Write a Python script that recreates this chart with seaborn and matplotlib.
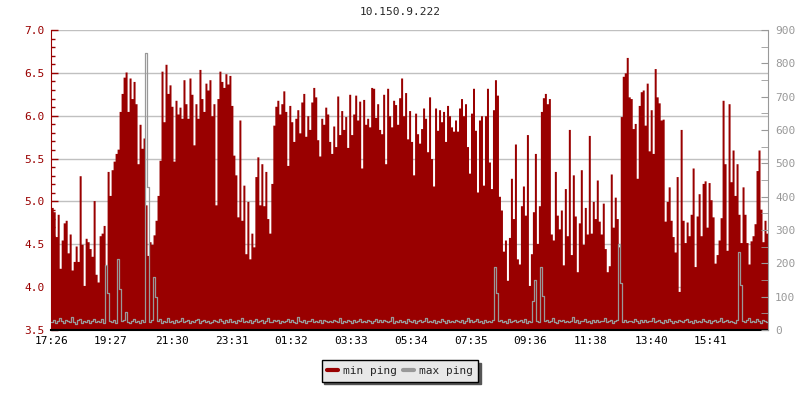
import numpy as np
import matplotlib
matplotlib.use("Agg")
import matplotlib.pyplot as plt
from matplotlib.lines import Line2D
import seaborn as sns

host = "10.150.9.222"
tick_labels = ["17:26", "19:27", "21:30", "23:31", "01:32", "03:33",
               "05:34", "07:35", "09:36", "11:38", "13:40", "15:41"]
tick_minutes = [0, 121, 244, 365, 486, 607, 728, 849, 970, 1092, 1214, 1335]
step_minutes = 4.04

# min ping (left axis), one value per sample
min_ping = [
    4.93, 4.88, 4.59, 4.85, 4.22, 4.55, 4.75, 4.78, 4.40, 4.62,
    4.20, 4.30, 4.48, 4.30, 5.30, 4.50, 4.02, 4.57, 4.53, 4.45,
    4.36, 5.01, 4.15, 4.06, 4.60, 4.63, 4.72, 4.26, 5.35, 5.07,
    5.37, 5.47, 5.56, 5.61, 6.05, 6.26, 6.45, 6.51, 6.05, 6.44,
    6.20, 6.40, 6.14, 5.44, 5.90, 5.62, 5.74, 4.96, 4.37, 4.53,
    4.50, 4.61, 4.78, 5.07, 5.48, 6.52, 5.93, 6.60, 6.26, 6.36,
    6.11, 5.47, 6.18, 6.02, 6.10, 5.97, 6.42, 6.14, 5.97, 6.44,
    6.25, 5.66, 6.14, 5.97, 6.54, 6.20, 6.05, 6.38, 6.30, 6.42,
    6.00, 6.14, 4.96, 6.20, 6.52, 6.40, 6.33, 6.49, 6.37, 6.47, 6.12,
    5.54, 5.31, 4.82, 5.95, 4.78, 5.19, 4.39, 5.00, 4.33, 4.63,
    4.47, 5.29, 5.52, 4.96, 5.44, 4.95, 5.35, 4.80, 4.63,
    5.21, 5.89, 6.11, 6.18, 6.02, 6.14, 6.29, 6.05, 5.42, 6.12,
    5.93, 5.70, 5.97, 6.07, 5.80, 6.16, 6.26, 5.76, 6.00, 5.84,
    6.16, 6.33, 6.22, 5.72, 5.53, 5.97, 5.90, 6.10, 6.02, 5.70,
    5.56, 5.88, 5.64, 6.23, 5.78, 6.06, 5.84, 5.99, 5.63, 6.25,
    5.78, 6.02, 6.24, 5.95, 6.17, 5.39, 6.19, 5.90, 5.97, 5.87,
    6.33, 6.32, 5.98, 6.14, 5.84, 5.79, 6.25, 5.44, 6.32, 6.00,
    5.87, 6.18, 6.13, 5.90, 6.21, 6.44, 6.00, 6.27, 5.73, 6.06,
    5.70, 5.31, 6.03, 5.79, 5.68, 5.85, 6.09, 5.97, 5.58, 6.22,
    5.50, 5.18, 6.09, 5.83, 6.07, 5.93, 6.05, 5.70, 6.12, 6.00,
    5.87, 5.82, 5.95, 5.82, 6.09, 6.20, 6.00, 6.14, 5.64, 5.33,
    6.03, 6.32, 5.83, 5.11, 5.95, 6.00,
    5.19, 6.00, 6.32, 5.46, 5.15, 6.07, 6.42, 6.24,
    5.06, 4.90, 4.42, 4.55, 4.08, 4.58, 5.27, 4.80, 5.67, 4.33,
    4.27, 4.95, 5.18, 4.84, 5.78, 4.02,
    4.39, 4.88, 5.56, 4.51, 4.95, 6.05, 6.21, 6.26, 6.14, 6.20,
    4.62, 4.55, 5.35, 4.84, 4.68, 4.90, 4.26, 5.15, 4.60, 5.84,
    4.38, 5.31, 4.83, 4.18, 4.75, 5.37, 4.50, 4.93, 4.62, 5.77,
    4.63, 5.00, 4.80, 5.25, 4.77, 4.62, 4.98, 4.45, 4.18, 4.25,
    5.32, 4.70, 5.05, 4.80, 4.47,
    5.99, 6.46, 6.50, 6.68, 6.22, 6.20, 5.85, 5.91, 5.27, 6.12,
    6.28, 6.30, 5.89, 6.38, 5.59,
    6.07, 5.56, 6.55, 6.22, 6.15, 5.95, 5.96, 4.77, 5.00, 5.17,
    4.78, 4.59, 4.41, 5.29, 3.95, 5.84, 4.78, 4.52, 4.76, 4.60,
    4.85, 5.39, 4.24, 4.83, 5.09, 4.60, 5.21, 5.24, 4.70, 5.22,
    5.02, 4.82, 4.28, 4.38, 4.55, 4.81, 6.18, 5.44, 4.43, 6.14,
    5.23, 5.60, 5.07, 5.44, 4.85, 4.52, 5.17, 4.85, 4.52, 4.27,
    4.54, 4.60, 4.74, 5.36, 5.60, 4.91, 4.53, 4.78, 4.63,
]

# max ping (right axis)
max_ping = [
    24, 30, 22, 28, 35, 26, 20, 31, 27, 23, 38, 25, 19, 29, 33, 22, 27, 24, 30, 21,
    26, 32, 23, 28, 25, 34, 22, 195, 111, 27, 24, 31, 22, 213, 123, 26, 29, 54, 25, 21,
    28, 33, 24, 27, 22, 30, 25, 831, 429, 23, 29, 159, 99, 26, 32, 21, 28, 24, 35, 23,
    27, 22, 30, 25, 28, 36, 23, 26, 31, 20, 27, 24, 29, 33, 22, 26, 30, 24, 28, 21,
    25, 31, 27, 23, 34, 26, 22, 29, 25, 32, 24, 28, 21, 30, 26, 37, 23, 27, 25, 29,
    22, 28, 33, 24, 26, 30, 21, 27, 35, 25, 23, 29, 26, 31, 22, 28, 24, 27, 32, 23,
    29, 25, 21, 38, 27, 24, 30, 22, 28, 26, 33, 23, 27, 25, 29, 21, 31, 26, 24, 28,
    23, 30, 27, 25, 36, 22, 28, 24, 31, 26, 20, 29, 25, 27, 33, 23, 28, 24, 30, 26,
    22, 27, 34, 25, 29, 23, 31, 26, 24, 28, 40, 22, 27, 25, 30, 24, 28, 21, 33, 26,
    25, 29, 22, 27, 31, 24, 26, 35, 23, 28, 25, 30, 21, 27, 24, 33, 26, 22, 29, 25,
    28, 23, 31, 26, 24, 30, 22, 27, 36, 25, 29, 23, 26, 32, 24, 28, 21, 30, 25, 27,
    23, 29, 189, 111, 26, 31, 24, 28, 22, 34, 25, 27, 30, 23, 26, 29, 24, 32, 22, 27,
    25, 87, 150, 28, 24, 189, 102, 26, 30, 23, 27, 35, 25, 22, 29, 26, 31, 24, 28, 23,
    27, 38, 25, 30, 22, 28, 26, 33, 24, 27, 21, 29, 25, 31, 23, 28, 26, 36, 24, 27,
    30, 22, 26, 29, 258, 141, 25, 31, 23, 28, 26, 24, 33, 27, 22, 29, 25, 30, 24, 28,
    26, 35, 23, 27, 30, 25, 22, 29, 24, 32, 27, 21, 28, 25, 31, 26, 23, 29, 34, 24,
    27, 22, 30, 25, 28, 23, 33, 26, 24, 29, 21, 27, 31, 25, 28, 37, 23, 26, 30, 24,
    28, 25, 22, 31, 234, 135, 27, 24, 29, 36, 23, 27, 25, 32, 26, 22, 30, 28, 25,
]

RED = "#990000"
GREY = "#999999"

sns.set_style("white")
plt.rcParams["font.family"] = ["DejaVu Sans Mono"]

n = len(min_ping)
xs = np.arange(n + 1) * step_minutes
lo = np.append(min_ping, min_ping[-1])
hi = np.append(max_ping, max_ping[-1])

fig, ax = plt.subplots(figsize=(8, 4), dpi=100)
fig.subplots_adjust(left=0.064, right=0.96, top=0.925, bottom=0.175)

# grid lines drawn by hand so they stay under the red fill
ax.grid(False)
for level in np.arange(4.0, 7.01, 0.5):
    ax.axhline(level, color="#c0c0c0", linewidth=1, zorder=0)

# min ping as filled steps on the left axis
ax.fill_between(xs, lo, 3.5, step="post", color=RED, linewidth=0, zorder=2)
ax.set_xlim(0, xs[-1])
ax.set_ylim(3.5, 7.0)
ax.set_yticks(np.arange(3.5, 7.01, 0.5))
ax.set_yticks(np.arange(3.5, 7.01, 0.1), minor=True)
ax.yaxis.set_major_formatter("{x:.1f}")
ax.set_xticks(tick_minutes, tick_labels)
ax.tick_params(axis="y", which="both", direction="in", colors=RED, labelsize=8, pad=5)
ax.tick_params(axis="y", which="major", length=5, width=1)
ax.tick_params(axis="y", which="minor", length=3, width=1)
ax.tick_params(axis="x", direction="in", colors="black", labelsize=8, length=5, width=1.2, pad=4)
ax.spines["left"].set_color(RED)
ax.spines["bottom"].set_color("black")
ax.spines["bottom"].set_linewidth(1.5)
ax.spines["top"].set_visible(False)
ax.spines["right"].set_visible(False)

# max ping as a grey step line on the right axis
ax2 = ax.twinx()
sns.lineplot(x=xs, y=hi, ax=ax2, color=GREY, linewidth=0.9,
             drawstyle="steps-post", legend=False)
ax2.grid(False)
ax2.set_ylim(0, 900)
ax2.set_yticks(range(0, 901, 100))
ax2.set_yticks(range(0, 901, 50), minor=True)
ax2.tick_params(axis="y", which="both", direction="in", colors=GREY, labelsize=8, pad=5)
ax2.tick_params(axis="y", which="major", length=5)
ax2.tick_params(axis="y", which="minor", length=5)
for side in ["left", "top", "bottom"]:
    ax2.spines[side].set_visible(False)
ax2.spines["right"].set_color(GREY)
ax2.set_xlim(0, xs[-1])

fig.text(0.5, 1 - 12 / 400, host, ha="center", va="center", fontsize=8)

handles = [Line2D([], [], color=RED, linewidth=3),
           Line2D([], [], color=GREY, linewidth=3)]
fig.legend(handles, ["min ping", "max ping"], loc="center",
           bbox_to_anchor=(0.5, 1 - 371 / 400), ncol=2, fontsize=8,
           frameon=True, fancybox=False, edgecolor="black", facecolor="#e8e8e8",
           framealpha=1, handlelength=1.0, handletextpad=0.4, columnspacing=0.6,
           borderpad=0.5,
           shadow={"facecolor": "#555555", "edgecolor": "#555555", "alpha": 1})

fig.savefig("out.png", dpi=100)
